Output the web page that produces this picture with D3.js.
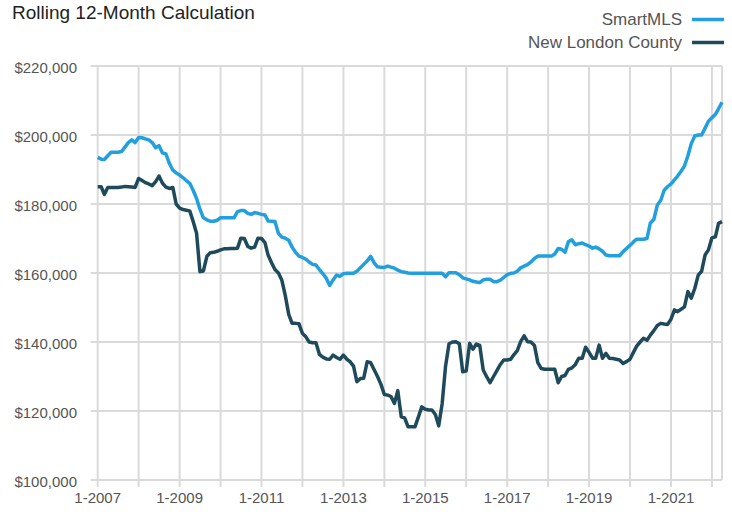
<!DOCTYPE html>
<html>
<head>
<meta charset="utf-8">
<script src="https://cdn.jsdelivr.net/npm/d3@7"></script>
<style>
  body { margin: 0; background: #fff; }
  svg { display: block; font-family: "Liberation Sans", Arial, sans-serif; }
</style>
</head>
<body>
<svg id="chart"></svg>
<script>
// monthly, 1-2007 .. 4-2022
const firstMonth = new Date(2007, 0, 1)
const lastMonth = new Date(2022, 3, 1)

const seriesNames = ['SmartMLS', 'New London County']
const seriesColors = ['#229fde', '#1f4a5b']

const smartMLS = [
  193500,193000,192900,194000,195000,195000,195000,195200,196500,197800,198600,197800,
  199300,199200,198900,198600,197800,196300,196900,194800,194500,191800,189800,189000,
  188400,187600,186800,186000,184000,181600,178500,176000,175400,175000,175000,175300,
  176000,176000,176000,176000,176000,177800,178100,178100,177300,177000,177500,177300,
  177000,176800,175100,175000,174900,171500,170400,170100,169500,167500,166000,164900,
  164500,164000,163200,162500,162300,161000,159800,158500,156400,158000,159400,159000,
  159800,159900,159900,159900,160500,161500,162500,163500,164800,163000,161800,161700,
  161600,162000,161700,161400,160800,160400,160200,160000,159900,159900,159900,159900,
  159900,159900,159900,159900,159900,159900,158900,160100,160100,160100,159500,158600,
  158300,158000,157600,157400,157200,158000,158200,158200,157500,157500,157900,158700,
  159500,159900,160000,160500,161500,162000,162400,163200,164200,164900,164900,164900,
  164900,164900,165500,167100,166900,166000,169100,169600,168200,168500,168700,168200,
  167800,167200,167500,167000,166300,165200,165000,165000,165000,165000,166200,167100,
  168000,169000,169800,169800,169800,170000,174500,175500,179700,181000,184000,185000,
  185800,187000,188100,189500,191000,194000,197500,199700,200000,200000,202000,204000,
  205000,206000,207600,209500
]

const newLondon = [
  185000,185000,182800,184800,184800,184800,184800,184900,185100,185000,184900,184800,
  187400,186800,186200,185800,185300,186500,188100,186000,184900,184500,184800,180000,
  178800,178400,178200,178000,175000,171500,160400,160600,164800,165900,166000,166300,
  166700,167000,167000,167100,167100,167200,170100,170000,167700,167200,167500,170100,
  170000,168800,165200,163000,161000,160000,158000,153500,148000,145400,145400,145300,
  142500,141500,140000,139800,139800,136400,135600,135100,135000,136200,135500,135000,
  136200,135000,134300,133000,128500,129400,129500,134300,134000,132000,130000,127800,
  124800,124600,124200,122200,125900,118300,118000,115400,115400,115400,118300,121200,
  120500,120300,120300,119000,115700,122200,133000,139500,140000,140100,139500,131400,
  131600,139600,137900,139400,139000,131900,130000,128200,130000,131700,133500,134800,
  134800,135000,136300,137500,140100,141800,140100,140000,139000,134000,132300,132100,
  132100,132100,132100,128200,130000,130300,132100,132500,133500,135300,135300,138500,
  137000,135300,135300,139100,135300,136700,135300,135200,135000,134800,133800,134300,
  135000,137000,138800,140000,141100,140500,142000,143300,144800,145400,145200,145100,
  146600,149300,148800,149500,150200,154600,152700,155500,159400,160500,165200,166700,
  170200,170500,174400,174900
]

const yTicks = [100000, 120000, 140000, 160000, 180000, 200000, 220000]

const WIDTH = 732
const HEIGHT = 515
const margin = {top: 66, right: 10, bottom: 35, left: 97.7}

const months = d3.timeMonth.range(firstMonth, d3.timeMonth.offset(lastMonth, 1))

const svg = d3.select('#chart')
    .attr('width', WIDTH)
    .attr('height', HEIGHT)

const x = d3.scaleTime()
    .domain([firstMonth, lastMonth])
    .range([margin.left, WIDTH - margin.right])
const y = d3.scaleLinear()
    .domain([100000, 220000])
    .range([HEIGHT - margin.bottom, margin.top])

const gridColor = '#dadada'
const yearTicks = d3.timeYear.range(firstMonth, lastMonth)

// gridlines
svg.append('g')
    .selectAll('line')
    .data(yTicks)
    .join('line')
    .attr('x1', margin.left - 7)
    .attr('x2', WIDTH - margin.right)
    .attr('y1', d => y(d))
    .attr('y2', d => y(d))
    .attr('stroke', gridColor)
    .attr('stroke-width', 2)

svg.append('g')
    .selectAll('line')
    .data(yearTicks.concat([lastMonth]))
    .join('line')
    .attr('x1', d => x(d))
    .attr('x2', d => x(d))
    .attr('y1', margin.top)
    .attr('y2', d => +d === +lastMonth ? HEIGHT - margin.bottom : HEIGHT - margin.bottom + 7)
    .attr('stroke', gridColor)
    .attr('stroke-width', 2)

// axis labels
svg.append('g')
    .selectAll('text')
    .data(yTicks)
    .join('text')
    .attr('x', 77)
    .attr('y', d => y(d) + 6.5)
    .attr('text-anchor', 'end')
    .attr('font-size', 15)
    .attr('fill', '#555')
    .text(d => '$' + d3.format(',')(d))

svg.append('g')
    .selectAll('text')
    .data(yearTicks.filter((d, i) => i % 2 === 0))
    .join('text')
    .attr('x', d => x(d))
    .attr('y', 503)
    .attr('text-anchor', 'middle')
    .attr('font-size', 15)
    .attr('fill', '#555')
    .text(d3.timeFormat('1-%Y'))

// lines
const line = d3.line()
    .x((d, i) => x(months[i]))
    .y(d => y(d))

;[smartMLS, newLondon].forEach((values, i) => {
    svg.append('path')
        .datum(values)
        .attr('d', line)
        .attr('fill', 'none')
        .attr('stroke', seriesColors[i])
        .attr('stroke-width', 3.5)
        .attr('stroke-linejoin', 'round')
})

// title
svg.append('text')
    .attr('x', 12)
    .attr('y', 19)
    .attr('font-size', 19)
    .attr('fill', '#222')
    .text('Rolling 12-Month Calculation')

// legend
const legend = svg.append('g')
    .selectAll('g')
    .data(seriesNames)
    .join('g')
    .attr('transform', (d, i) => `translate(0, ${25 + i * 23})`)

legend.append('text')
    .attr('x', 682)
    .attr('text-anchor', 'end')
    .attr('font-size', 17)
    .attr('fill', '#555')
    .text(d => d)

legend.append('line')
    .attr('x1', 692)
    .attr('x2', 724)
    .attr('y1', -5.5)
    .attr('y2', -5.5)
    .attr('stroke', (d, i) => seriesColors[i])
    .attr('stroke-width', 3.5)
</script>
</body>
</html>
